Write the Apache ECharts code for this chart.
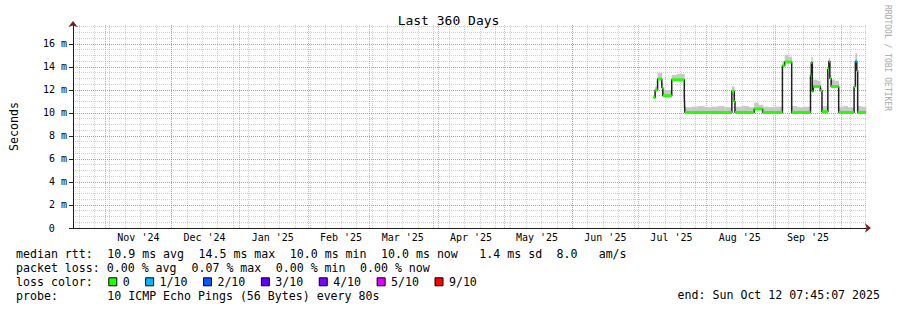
<!DOCTYPE html>
<html><head><meta charset="utf-8">
<script src="https://cdn.jsdelivr.net/npm/echarts@6/dist/echarts.min.js"></script>
<style>html,body{margin:0;padding:0;background:#fff}#c{width:897px;height:310px}</style>
</head><body><div id="c"></div>
<script>
// ---------------- data ----------------
const rangeStart = '2024-10-17 07:45:07';
const rangeEnd   = '2025-10-12 07:45:07';
const sampleTimes = [
  '2025-07-07 21:00','2025-07-08 14:00','2025-07-09 17:00','2025-07-11 15:00','2025-07-12 02:00',
  '2025-07-16 03:00','2025-07-18 12:00','2025-07-21 20:00','2025-07-22 02:00','2025-07-25 00:00',
  '2025-07-28 00:00','2025-07-31 00:00','2025-08-03 00:00','2025-08-06 00:00','2025-08-09 00:00',
  '2025-08-12 10:00','2025-08-13 12:00','2025-08-13 20:00','2025-08-17 00:00','2025-08-20 00:00',
  '2025-08-22 14:00','2025-08-24 12:00','2025-08-26 09:00','2025-08-29 00:00','2025-09-01 00:00',
  '2025-09-04 09:00','2025-09-05 10:00','2025-09-07 00:00','2025-09-08 14:00','2025-09-11 00:00',
  '2025-09-14 00:00','2025-09-17 03:00','2025-09-17 12:00','2025-09-17 23:00','2025-09-18 10:00',
  '2025-09-20 00:00','2025-09-21 14:00','2025-09-22 08:00','2025-09-25 00:00','2025-09-25 11:00',
  '2025-09-25 22:00','2025-09-26 12:00','2025-09-28 00:00','2025-09-29 22:00','2025-10-02 00:00',
  '2025-10-04 00:00','2025-10-06 22:00','2025-10-07 12:00','2025-10-08 03:00','2025-10-08 13:00',
  '2025-10-10 00:00','2025-10-12 07:45'
];
const medianMs = [
  11.35,12.0,12.95,12.2,11.5,
  12.9,12.9,11.4,10.05,10.05,
  10.05,10.05,10.05,10.05,10.05,
  11.9,11.0,10.05,10.05,10.05,
  10.35,10.35,10.05,10.05,10.05,
  14.1,14.43,14.43,10.05,10.05,
  10.05,13.3,14.4,11.9,12.3,
  12.3,11.95,10.1,13.8,14.5,
  13.0,12.3,12.3,10.05,10.05,
  10.05,12.3,14.5,13.7,10.05,
  10.05,10.05
];
const smokeTopMs = [
  11.5,12.3,13.5,12.6,12.0,
  13.3,13.4,11.6,10.5,10.55,
  10.6,10.5,10.55,10.6,10.5,
  12.3,11.3,10.55,10.6,10.5,
  10.9,10.7,10.55,10.5,10.55,
  14.5,15.05,14.9,10.6,10.5,
  10.55,13.6,14.9,12.2,12.9,
  12.8,12.2,10.6,14.0,14.8,
  13.3,12.9,12.8,10.55,10.6,
  10.5,12.5,15.2,14.0,10.6,
  10.55,10.5
];
const lossTenths = [
  0,0,0,0,0, 0,0,0,0,0, 0,0,0,0,0, 0,0,0,0,0, 0,0,0,0,0,
  0,0,0,0,0, 0,0,0,0,0, 0,0,0,0,0, 0,0,0,0,0, 0,0,1,0,0, 0,0
];
const yMajorTicks = [0,2,4,6,8,10,12,14,16];
const lossLabels = ['0','1/10','2/10','3/10','4/10','5/10','9/10'];
const lossLevels = [0,1,2,3,4,5,9];
const lossColors = ['#26ff00','#00b8ff','#0059ff','#5e00ff','#7e00ff','#dd00ff','#ff0000'];
const titleText = 'Last 360 Days';
const yAxisTitle = 'Seconds';
const legendLines = [
  'median rtt:  10.9 ms avg  14.5 ms max  10.0 ms min  10.0 ms now   1.4 ms sd  8.0   am/s',
  'packet loss: 0.00 % avg  0.07 % max  0.00 % min  0.00 % now',
  'loss color:',
  'probe:       10 ICMP Echo Pings (56 Bytes) every 80s'
];
const endText = 'end: Sun Oct 12 07:45:07 2025';
const watermark = 'RRDTOOL / TOBI OETIKER';
const monthNames = ['Jan','Feb','Mar','Apr','May','Jun','Jul','Aug','Sep','Oct','Nov','Dec'];

// ---------------- helpers ----------------
function ts(s){
  const [d,t='00:00:00'] = s.split(' ');
  const [Y,M,D] = d.split('-').map(Number);
  const [h,mi,se=0] = t.split(':').map(Number);
  return new Date(Y,M-1,D,h,mi,se).getTime();
}
const tMin = ts(rangeStart), tMax = ts(rangeEnd);
const DAY = 86400000;
const monthStarts = [], monthLabels = [];
for (let y=2024, m=9; y<2026; ){
  const s = new Date(y,m,1).getTime();
  if (s>tMin && s<tMax) monthStarts.push(s);
  const l = s + 15*DAY;
  if (l>tMin && l<tMax) monthLabels.push(l);
  m++; if (m>11){m=0;y++;}
}
const weekTicks = [];
{ let d = new Date(tMin); d = new Date(d.getFullYear(), d.getMonth(), d.getDate()+((7-d.getDay())%7 || 7));
  while (d.getTime() < tMax){ weekTicks.push(d.getTime()); d = new Date(d.getFullYear(), d.getMonth(), d.getDate()+7); } }
const yMinorTicks = [];
for (let v=0.5; v<17.6; v+=0.5) yMinorTicks.push(Math.round(v*10)/10);

const times = sampleTimes.map(ts);
const medianData = times.map((t,i)=>[t, medianMs[i]]);
const smokeData = [];
for (let i=0;i<times.length-1;i++) smokeData.push([times[i], times[i+1], medianMs[i], smokeTopMs[i]]);

const lossSeries = [];
lossLevels.forEach((lv,k)=>{
  const data = [];
  for (let i=0;i<times.length-1;i++){
    if (lossTenths[i]!==lv) continue;
    data.push([times[i], medianMs[i]], [times[i+1], medianMs[i]], [times[i+1], '-']);
  }
  if (data.length) lossSeries.push({
    type:'line', name:'loss '+lossLabels[k], data, symbol:'none', connectNulls:false,
    lineStyle:{color:lossColors[k], width:3, cap:'butt'}, z:5, silent:true
  });
});

const FONT = 'DejaVu Sans Mono';
const redGrid = {color:'rgba(222,79,79,0.5)', width:1, type:[1,1]};
const grayGrid = {color:'rgba(143,143,143,0.42)', width:1, type:[1,1]};

// ---------------- graphic (legend block) ----------------
const CW = 7.02, LX = 16;
const rowY = [254.3, 268.3, 282.3, 296];
const graphic = [];
legendLines.forEach((line, r)=>{
  const re = /\S+(?: \S+)*/g; let m;
  while ((m = re.exec(line))) {
    graphic.push({type:'text', x: LX + m.index*CW, y: rowY[r],
      style:{text:m[0], fontFamily:FONT, fontSize:11.6, fill:'#000', verticalAlign:'middle', align:'left'}});
  }
});
{ let x = 108.3;
  lossLabels.forEach((lab,k)=>{
    graphic.push({type:'rect', shape:{x:x+0.5, y:rowY[2]-4.5, width:8, height:8},
      style:{fill:lossColors[k], stroke:'#000', lineWidth:1}});
    const tx = x + 14.4;
    graphic.push({type:'text', x: tx, y: rowY[2],
      style:{text:lab, fontFamily:FONT, fontSize:11.6, fill:'#000', verticalAlign:'middle', align:'left'}});
    x = tx + lab.length*CW + 15.4;
  });
}
graphic.push({type:'text', x: 880, y: 295,
  style:{text:endText, fontFamily:FONT, fontSize:11.6, fill:'#000', verticalAlign:'middle', align:'right'}});
graphic.push({type:'text', x: 887, y: 5, rotation:-Math.PI/2,
  style:{text:watermark, fontFamily:FONT, fontSize:8, fill:'#a8a8a8', verticalAlign:'middle', align:'left'}});

// ---------------- chart ----------------
const chart = echarts.init(document.getElementById('c'), null, {renderer:'svg'});
chart.setOption({
  animation:false,
  backgroundColor:'#ffffff',
  title:{text:titleText, left:'center', top:9,
    textStyle:{fontFamily:FONT, fontSize:13, fontWeight:'normal', color:'#000'}},
  grid:{left:66, top:25, width:800, height:203},
  xAxis:[
    {type:'value', min:tMin, max:tMax, z:1, position:'bottom', offset:0,
      axisLine:{show:true, lineStyle:{color:'#1f1f1f', width:1}},
      axisTick:{show:false, customValues:monthStarts},
      splitLine:{show:true, lineStyle:redGrid},
      axisLabel:{customValues:monthLabels, fontFamily:FONT, fontSize:10, color:'#000', margin:4,
        formatter:(v)=>{const d=new Date(v); return monthNames[d.getMonth()]+" '"+String(d.getFullYear()).slice(2);}}},
    {type:'value', min:tMin, max:tMax, z:0, position:'bottom', offset:0,
      axisLine:{show:false}, axisTick:{show:false, customValues:weekTicks},
      splitLine:{show:true, lineStyle:grayGrid}, axisLabel:{show:false}},
    {type:'value', min:tMin, max:tMax, z:0, position:'bottom', offset:0,
      axisLine:{show:true, symbol:['none','arrow'], symbolSize:[7,6], symbolOffset:[0,5], lineStyle:{color:'#801f1f'}},
      axisTick:{show:false}, splitLine:{show:false}, axisLabel:{show:false}}
  ],
  yAxis:[
    {type:'value', min:0, max:17.65, z:1, position:'left', offset:0,
      name:yAxisTitle, nameLocation:'middle', nameGap:53, nameRotate:90,
      nameTextStyle:{fontFamily:FONT, fontSize:11.6, color:'#000'},
      axisLine:{show:true, lineStyle:{color:'#1f1f1f', width:1}},
      axisTick:{show:true, customValues:yMajorTicks, length:4, lineStyle:{color:'#1f1f1f'}},
      splitLine:{show:true, lineStyle:redGrid},
      axisLabel:{customValues:yMajorTicks, fontFamily:FONT, fontSize:10, color:'#000', margin:6,
        formatter:(v)=> v===0 ? '{z|0}' : v+' m',
        rich:{z:{fontFamily:FONT, fontSize:10, color:'#000', width:18.2, align:'left'}}}},
    {type:'value', min:0, max:17.65, z:0, position:'left', offset:0,
      axisLine:{show:false}, axisTick:{show:false, customValues:yMinorTicks},
      splitLine:{show:true, lineStyle:grayGrid}, axisLabel:{show:false}},
    {type:'value', min:0, max:17.65, z:0, position:'left', offset:0,
      axisLine:{show:true, symbol:['none','arrow'], symbolSize:[7,6], symbolOffset:[0,4], lineStyle:{color:'#801f1f'}},
      axisTick:{show:false}, splitLine:{show:false}, axisLabel:{show:false}}
  ],
  series:[
    {type:'custom', name:'smoke', data:smokeData, z:2, silent:true,
      encode:{x:[0,1], y:[2,3]},
      renderItem:(params, api)=>{
        const p0 = api.coord([api.value(0), api.value(3)]);
        const p1 = api.coord([api.value(1), api.value(2)]);
        return {type:'rect', shape:{x:p0[0], y:p0[1], width:p1[0]-p0[0]+0.4, height:p1[1]-p0[1]},
          style:{fill:'#c8c8c8'}};
      }},
    {type:'line', name:'median', data:medianData, step:'end', symbol:'none',
      lineStyle:{color:'#202020', width:1.5}, z:4, silent:true},
    ...lossSeries
  ],
  graphic
});
</script></body></html>
